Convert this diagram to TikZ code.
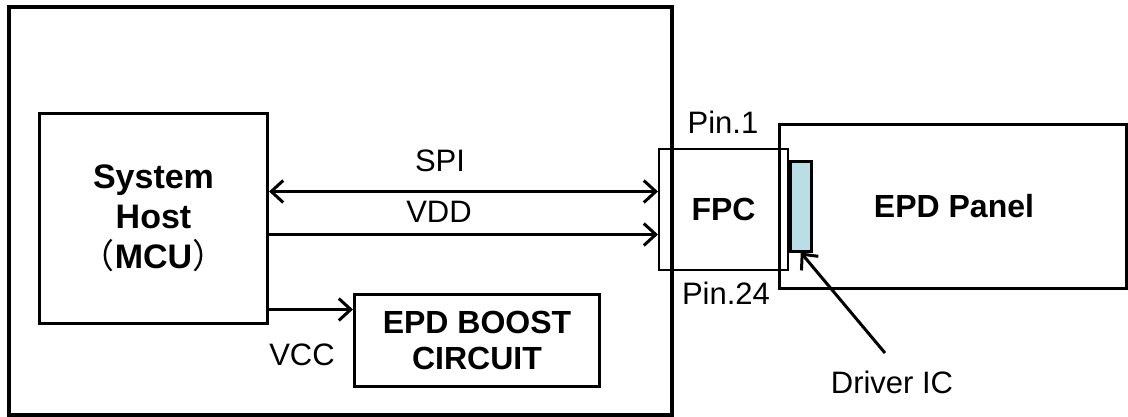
\documentclass[tikz,border=0pt]{standalone}
\usepackage{fontspec}
\setmainfont{Liberation Sans}
\newfontfamily\cjk{Noto Sans CJK SC}
\usepackage{xcolor}
\usetikzlibrary{arrows.meta,positioning}
\definecolor{icblue}{RGB}{185,223,228}

\begin{document}
\begin{tikzpicture}[x=1pt, y=-1pt,
    box/.style={draw, line width=3pt, inner sep=0pt, anchor=north west, align=center, font=\fontsize{32}{38}\selectfont\bfseries},
    lbl/.style={font=\fontsize{31}{34}\selectfont, inner sep=0pt},
    arrow/.style={-{Straight Barb[length=12pt,width=22pt]}, line width=3pt},
    dblarrow/.style={{Straight Barb[length=12pt,width=22pt]}-{Straight Barb[length=12pt,width=22pt]}, line width=3pt}
]
\useasboundingbox (0,0) rectangle (1128,416);
% host side
\node[box, line width=4pt, minimum width=663pt, minimum height=408pt] (board) at (7,5) {};
\node[box, minimum width=228pt, minimum height=210pt, font=\fontsize{34}{40}\selectfont\bfseries] (host) at (38,112) {System\\Host\\{\cjk\mdseries（}MCU{\cjk\mdseries）}};
\node[box, minimum width=245pt, minimum height=92pt, font=\fontsize{32}{36}\selectfont\bfseries] (boost) at (353,293) {EPD BOOST\\CIRCUIT};
% panel side
\node[box, minimum width=347pt, minimum height=164pt] (panel) at (778,123) {\hspace*{2pt}EPD Panel};
\node[box, line width=2pt, minimum width=129pt, minimum height=121pt] (fpc) at (658,148) {FPC};
\node[box, line width=2.5pt, fill=icblue, minimum width=21pt, minimum height=90pt] (drvic) at (789,160) {};
% labels
\node[lbl] (spilbl) at (440,161) {SPI};
\node[lbl] (vddlbl) at (439,212) {VDD};
\node[lbl] (vcclbl) at (302,355) {VCC};
\node[lbl] (pin1) at (723,122) {Pin.1};
\node[lbl] (pin24) at (726,293) {Pin.24};
\node[lbl] (drvlbl) at (892,382) {Driver IC};
% connectors
\coordinate (spiout) at ([yshift=27pt]host.east);
\coordinate (vddout) at ([yshift=-16pt]host.east);
\coordinate (vccout) at ([yshift=-91pt]host.east);
\coordinate (drvtail) at (885,353);
\draw[dblarrow] (spiout) -- (spiout -| fpc.west);
\draw[arrow] (vddout) -- (vddout -| fpc.west);
\draw[arrow] (vccout) -- (vccout -| boost.west);
\draw[arrow] (drvtail) -- (drvic.south);
\end{tikzpicture}
\end{document}
